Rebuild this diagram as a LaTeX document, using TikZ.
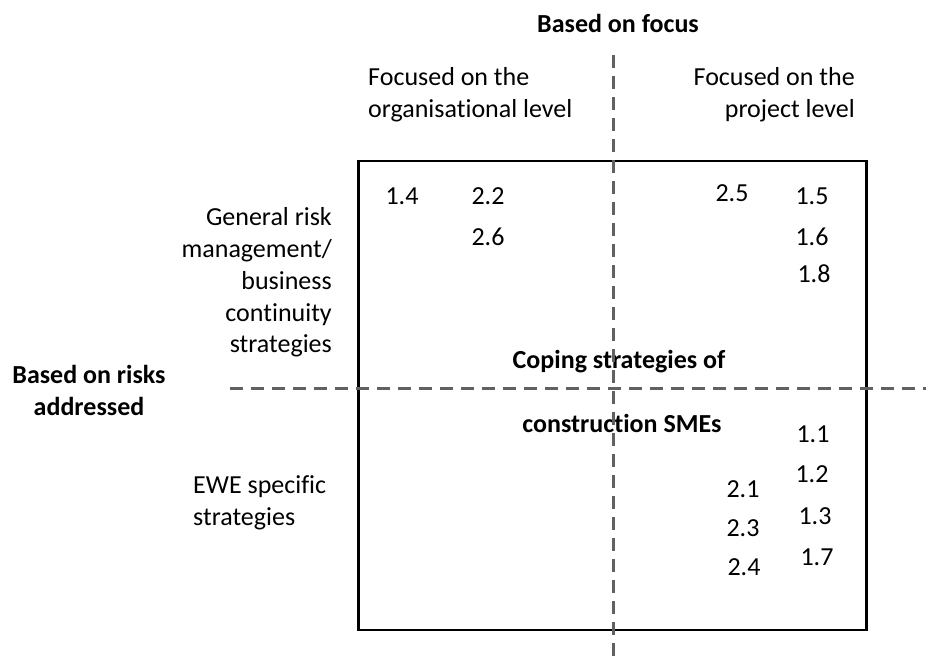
\documentclass[tikz,border=0pt]{standalone}
\usepackage{fontspec}
\setmainfont{Carlito}[Ligatures={NoCommon}]
\begin{document}
\begin{tikzpicture}[x=1pt,y=-1pt,
  txt/.style={inner sep=0pt,font=\fontsize{26}{33}\selectfont},
  btxt/.style={inner sep=0pt,font=\fontsize{26}{33}\selectfont\bfseries},
  num/.style={inner sep=0pt,font=\fontsize{26}{33}\selectfont},
  divider/.style={draw=black!62,line width=3pt,dash pattern=on 12.5pt off 8.5pt},
  frame/.style={draw=black,line width=2.7pt}]
\useasboundingbox (0,0) rectangle (926,659);
% frame
\node[frame,minimum width=508pt,minimum height=469pt,inner sep=0pt] (box) at (612.5,395.5) {};
% headings
\node[btxt,anchor=base] (focus) at (618,32) {Based on focus};
\node[txt,anchor=base west] (org1) at (368,85) {Focused on the};
\node[txt,anchor=base west] (org2) at (368,117) {organisational level};
\node[txt,anchor=base east] (prj1) at (855,85) {Focused on the};
\node[txt,anchor=base east] (prj2) at (855,117) {project level};
\node[txt,anchor=base east] (gen1) at (332,225) {General risk};
\node[txt,anchor=base east] (gen2) at (332,257) {management/};
\node[txt,anchor=base east] (gen3) at (332,289) {business};
\node[txt,anchor=base east] (gen4) at (332,321) {continuity};
\node[txt,anchor=base east] (gen5) at (332,352) {strategies};
\node[btxt,anchor=base] (risk1) at (89,383) {Based on risks};
\node[btxt,anchor=base] (risk2) at (89,415) {addressed};
\node[txt,anchor=base west] (ewe1) at (193,493) {EWE specific};
\node[txt,anchor=base west] (ewe2) at (193,525) {strategies};
\node[btxt,anchor=base] (cop1) at (619,368) {Coping strategies of};
\node[btxt,anchor=base] (cop2) at (622,432) {construction SMEs};
% numbers
\node[num] (n14) at (402,196) {1.4};
\node[num] (n22) at (488,196) {2.2};
\node[num] (n26) at (488,237) {2.6};
\node[num] (n25) at (732,193) {2.5};
\node[num] (n15) at (812,196) {1.5};
\node[num] (n16) at (812,237) {1.6};
\node[num] (n18) at (814,274) {1.8};
\node[num] (n11) at (813,434) {1.1};
\node[num] (n12) at (812,474) {1.2};
\node[num] (n21) at (743,489) {2.1};
\node[num] (n13) at (815,516) {1.3};
\node[num] (n23) at (743,528) {2.3};
\node[num] (n17) at (817,557) {1.7};
\node[num] (n24) at (744,567) {2.4};
% dividers
\coordinate (vtop) at (613,55);
\coordinate (vbot) at (613,659);
\coordinate (hl) at (230,388);
\coordinate (hr) at (926,388);
\draw[divider] (vtop) -- (vbot);
\draw[divider] (hl) -- (hr);
\end{tikzpicture}
\end{document}
